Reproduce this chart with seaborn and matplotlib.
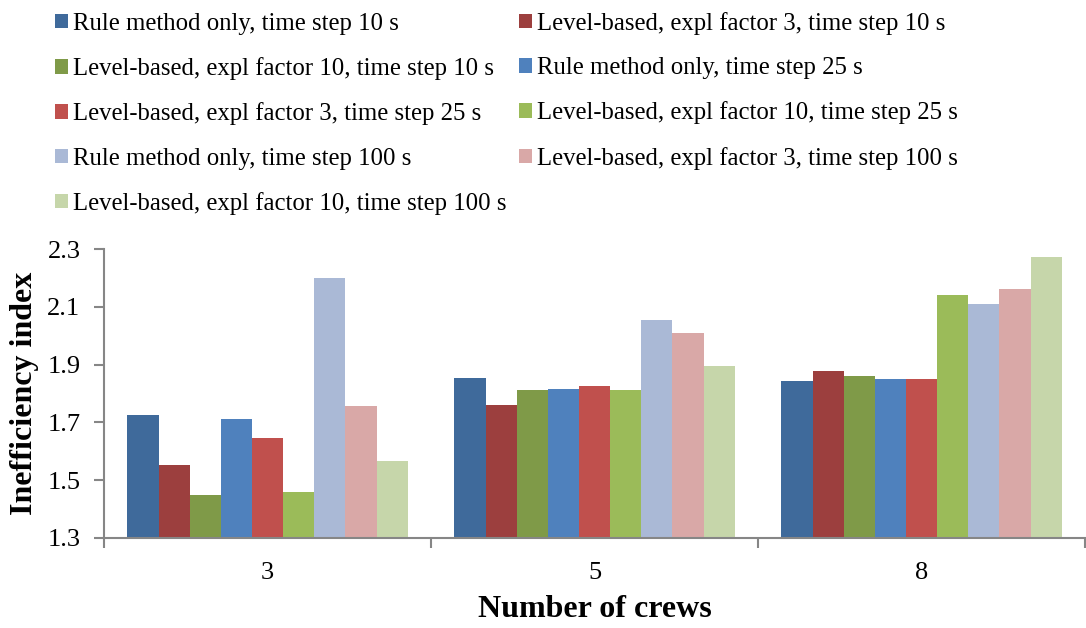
import matplotlib
matplotlib.use("Agg")
import matplotlib.pyplot as plt
import seaborn as sns
import pandas as pd
from matplotlib.patches import Patch

crews = ["3", "5", "8"]
series = [
    "Rule method only, time step 10 s",
    "Level-based, expl factor 3, time step 10 s",
    "Level-based, expl factor 10, time step 10 s",
    "Rule method only, time step 25 s",
    "Level-based, expl factor 3, time step 25 s",
    "Level-based, expl factor 10, time step 25 s",
    "Rule method only, time step 100 s",
    "Level-based, expl factor 3, time step 100 s",
    "Level-based, expl factor 10, time step 100 s",
]
vals_3 = [1.726, 1.553, 1.448, 1.711, 1.647, 1.458, 2.201, 1.757, 1.567]
vals_5 = [1.852, 1.759, 1.813, 1.816, 1.825, 1.811, 2.053, 2.011, 1.894]
vals_8 = [1.842, 1.877, 1.859, 1.849, 1.850, 2.140, 2.108, 2.160, 2.271]
colors = ["#3F6A9B", "#9C3F3E", "#7F9A48", "#4F81BD", "#C0504D",
          "#9BBB59", "#AAB9D6", "#D9A8A7", "#C6D6AA"]
yticks = [1.3, 1.5, 1.7, 1.9, 2.1, 2.3]

rows = []
for c, vals in zip(crews, [vals_3, vals_5, vals_8]):
    for s, v in zip(series, vals):
        rows.append({"crews": c, "series": s, "value": v})
df = pd.DataFrame(rows)

sns.set_style("white")
plt.rcParams["font.family"] = ["Liberation Serif", "DejaVu Serif"]
plt.rcParams["text.color"] = "black"
plt.rcParams["axes.labelcolor"] = "black"
plt.rcParams["xtick.color"] = "black"
plt.rcParams["ytick.color"] = "black"

fig = plt.figure(figsize=(10.86, 6.28), dpi=100)
ax = fig.add_axes([104 / 1086, 1 - 538 / 628, 981 / 1086, 289 / 628])

sns.barplot(data=df, x="crews", y="value", hue="series", hue_order=series,
            palette=colors, width=9 / 10.5, ax=ax, legend=False,
            edgecolor="none", linewidth=0, saturation=1)

ax.set_ylim(1.3, 2.3)
ax.set_yticks(yticks)
ax.set_yticklabels([f"{t:.1f}" for t in yticks], fontsize=19)
ax.set_xlim(-0.5, 2.5)
ax.set_xticks([0, 1, 2])
ax.set_xticklabels(crews, fontsize=19)
ax.tick_params(axis="x", length=0, pad=17)
ax.set_xticks([-0.5, 0.5, 1.5, 2.5], minor=True)
ax.tick_params(axis="x", which="minor", direction="out", length=7,
               color="#868686", width=1.5, bottom=True)
ax.tick_params(axis="y", direction="out", length=7, color="#868686",
               width=1.5, left=True, pad=10)
for sp in ["top", "right"]:
    ax.spines[sp].set_visible(False)
for sp in ["left", "bottom"]:
    ax.spines[sp].set_color("#868686")
    ax.spines[sp].set_linewidth(1.5)

ax.set_xlabel("Number of crews", fontsize=23, fontweight="bold", labelpad=8)
ax.set_ylabel("Inefficiency index", fontsize=23, fontweight="bold", labelpad=6)

handles = [Patch(facecolor=c, edgecolor="none") for c in colors]
order = [0, 2, 4, 6, 8, 1, 3, 5, 7]
fig.legend([handles[i] for i in order], [series[i] for i in order],
           ncol=2, loc="upper left", bbox_to_anchor=(55 / 1086, 1 - 12 / 628),
           frameon=False, fontsize=17.8, handlelength=0.52, handleheight=0.52,
           handletextpad=0.22, columnspacing=0.5, labelspacing=0.9,
           borderaxespad=0, borderpad=0)

fig.savefig("out.png", dpi=100)
